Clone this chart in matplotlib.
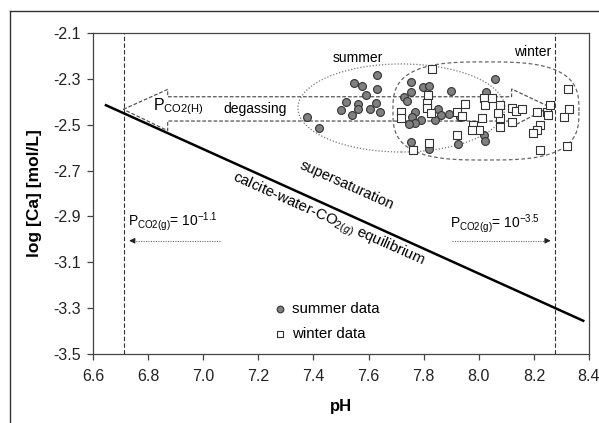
import matplotlib
import numpy as np

matplotlib.use("Agg")
import matplotlib.pyplot as plt
from matplotlib.lines import Line2D
from matplotlib.patches import Ellipse, Polygon

plt.rcParams["font.family"] = ["Liberation Sans", "DejaVu Sans"]
plt.rcParams["mathtext.fontset"] = "custom"
plt.rcParams["mathtext.rm"] = "Liberation Sans"
plt.rcParams["mathtext.it"] = "Liberation Sans:italic"
plt.rcParams["mathtext.bf"] = "Liberation Sans:bold"

# summer samples (pH, log Ca)
summer_ph = [7.629, 7.548, 7.576, 7.629, 7.591, 7.518, 7.563, 7.628, 7.500, 7.560,
             7.606, 7.641, 7.540, 7.378, 7.421, 7.753, 7.799, 7.820, 7.753, 7.899,
             7.728, 7.738, 7.768, 7.851, 7.863, 7.893, 7.756, 7.790, 7.768, 7.748,
             7.841, 7.932, 7.753, 7.820, 7.925, 8.019, 8.022, 8.028, 8.059]
summer_ca = [-2.282, -2.317, -2.331, -2.344, -2.372, -2.402, -2.411, -2.404, -2.434, -2.433,
             -2.430, -2.445, -2.459, -2.465, -2.516, -2.315, -2.337, -2.331, -2.359, -2.353,
             -2.380, -2.395, -2.443, -2.433, -2.458, -2.455, -2.468, -2.479, -2.491, -2.497,
             -2.479, -2.468, -2.574, -2.607, -2.584, -2.545, -2.570, -2.356, -2.301]

# winter samples (pH, log Ca)
winter_ph = [7.829, 7.817, 7.811, 7.811, 7.718, 7.718, 7.828, 7.920, 7.950, 7.938,
             8.018, 8.021, 8.047, 8.077, 8.010, 7.980, 8.001, 7.975, 8.077, 8.077,
             8.068, 7.920, 7.819, 7.761, 8.119, 8.136, 8.156, 8.119, 8.210, 8.246,
             8.252, 8.258, 8.222, 8.210, 8.198, 8.222, 8.325, 8.327, 8.309, 8.319]
winter_ca = [-2.255, -2.370, -2.404, -2.428, -2.443, -2.472, -2.447, -2.443, -2.411, -2.464,
             -2.383, -2.414, -2.385, -2.414, -2.472, -2.503, -2.523, -2.525, -2.472, -2.509,
             -2.450, -2.545, -2.581, -2.610, -2.426, -2.440, -2.431, -2.487, -2.446, -2.443,
             -2.458, -2.414, -2.501, -2.523, -2.535, -2.610, -2.344, -2.431, -2.465, -2.593]

# calcite-water-CO2(g) equilibrium line
eq_ph = [6.647, 7.569, 8.379]
eq_ca = [-2.415, -2.915, -3.355]

# pCO2 limits (pH of the vertical lines)
ph_limits = [6.711, 8.277]

# hollow double-headed "degassing" arrow outline (pH, log Ca)
arrow_ph = [6.710, 6.871, 6.871, 8.119, 8.119, 8.258, 8.119, 8.119, 6.871, 6.871]
arrow_ca = [-2.433, -2.346, -2.378, -2.378, -2.344, -2.423, -2.509, -2.484, -2.484, -2.526]

fig = plt.figure(figsize=(5.99, 4.23), dpi=100)
ax = fig.add_axes([93 / 599, 1 - 354 / 423, 496 / 599, 321 / 423])

# figure frame (left and top edges visible)
fig.add_artist(Line2D([10 / 599, 10 / 599], [0, 1 - 11 / 423], color="#333333", lw=1.0))
fig.add_artist(Line2D([10 / 599, 1], [1 - 11 / 423, 1 - 11 / 423], color="#333333", lw=1.0))

for x in ph_limits:
    ax.axvline(x, color="#333333", lw=0.8, ls=(0, (4, 2)), zorder=1)

ax.plot(eq_ph, eq_ca, color="black", lw=1.8, zorder=2)

ax.add_patch(Polygon(np.column_stack([arrow_ph, arrow_ca]), closed=True, fill=False,
                     edgecolor="#555555", lw=0.9, ls=(0, (3, 1.5)), zorder=2))

# summer group (dotted ellipse)
ax.add_patch(Ellipse((7.719, -2.427), 0.751, 0.384, fill=False, edgecolor="#777777",
                     lw=0.9, ls=(0, (1, 1.5)), zorder=2))

# winter group (rounded dashed outline)
t = np.linspace(0, 2 * np.pi, 200)
n = 3.0
wx = 8.026 + 0.3375 * np.sign(np.cos(t)) * np.abs(np.cos(t)) ** (2 / n)
wy = -2.440 + 0.214 * np.sign(np.sin(t)) * np.abs(np.sin(t)) ** (2 / n)
ax.plot(wx, wy, color="#666666", lw=0.9, ls=(0, (3, 2)), zorder=2)

ax.scatter(summer_ph, summer_ca, s=32, c="#808080", edgecolors="#333333",
           linewidths=0.8, label="summer data", zorder=3)
ax.scatter(winter_ph, winter_ca, s=30, marker="s", c="white", edgecolors="#333333",
           linewidths=0.8, label="winter data", zorder=4)

ax.text(7.562, -2.209, "summer", fontsize=10, ha="center", va="center")
ax.text(8.262, -2.181, "winter", fontsize=10, ha="right", va="center")
ax.text(6.91, -2.421, r"P$_{\rm CO2(H)}$", fontsize=11.5, ha="center", va="center")
ax.text(7.188, -2.433, "degassing", fontsize=10, ha="center", va="center")
ax.text(7.52, -2.763, "supersaturation", fontsize=10.5, ha="center", va="center",
        rotation=-24, rotation_mode="anchor")
ax.text(7.453, -2.916, r"calcite-water-CO$_{2(g)}$ equilibrium", fontsize=10.8,
        ha="center", va="center", rotation=-24, rotation_mode="anchor")

ax.text(6.727, -2.923, r"P$_{\rm CO2(g)}$= 10$^{-1.1}$", fontsize=10, ha="left", va="center")
ax.text(7.895, -2.930, r"P$_{\rm CO2(g)}$= 10$^{-3.5}$", fontsize=10, ha="left", va="center")

# dotted pointer arrows toward the pCO2 limits
ax.plot([7.061, 6.75], [-3.006, -3.006], color="#666666", lw=0.8, ls=(0, (1, 1.2)))
ax.annotate("", xy=(6.721, -3.006), xytext=(6.76, -3.006),
            arrowprops=dict(arrowstyle="-|>", color="#222222", lw=0.8, mutation_scale=8))
ax.plot([7.903, 8.24], [-3.006, -3.006], color="#666666", lw=0.8, ls=(0, (1, 1.2)))
ax.annotate("", xy=(8.271, -3.006), xytext=(8.23, -3.006),
            arrowprops=dict(arrowstyle="-|>", color="#222222", lw=0.8, mutation_scale=8))

ax.set_xlim(6.6, 8.4)
ax.set_ylim(-3.5, -2.1)
ax.set_xticks(np.arange(6.6, 8.41, 0.2))
ax.set_yticks(np.arange(-3.5, -2.09, 0.2))
ax.set_xticklabels([f"{v:.1f}" for v in np.arange(6.6, 8.41, 0.2)])
ax.set_yticklabels([f"{v:.1f}" for v in np.arange(-3.5, -2.09, 0.2)])
ax.tick_params(direction="out", length=4.5, width=0.9, color="#444444",
               labelsize=11.5, labelcolor="#222222")
ax.tick_params(axis="x", pad=6)
ax.tick_params(axis="y", pad=4)
for sp in ax.spines.values():
    sp.set_color("#444444")
    sp.set_linewidth(0.9)

ax.set_xlabel("pH", fontsize=12, fontweight="bold", labelpad=11)
ax.set_ylabel("log [Ca] [mol/L]", fontsize=12.5, fontweight="bold", labelpad=8)

ax.legend(loc="center left", bbox_to_anchor=(0.338, 0.101), frameon=False, fontsize=10.8,
          handlelength=1.0, handletextpad=0.3, labelspacing=0.75, borderpad=0.3,
          markerscale=0.85)

fig.savefig("out.png", dpi=100)
